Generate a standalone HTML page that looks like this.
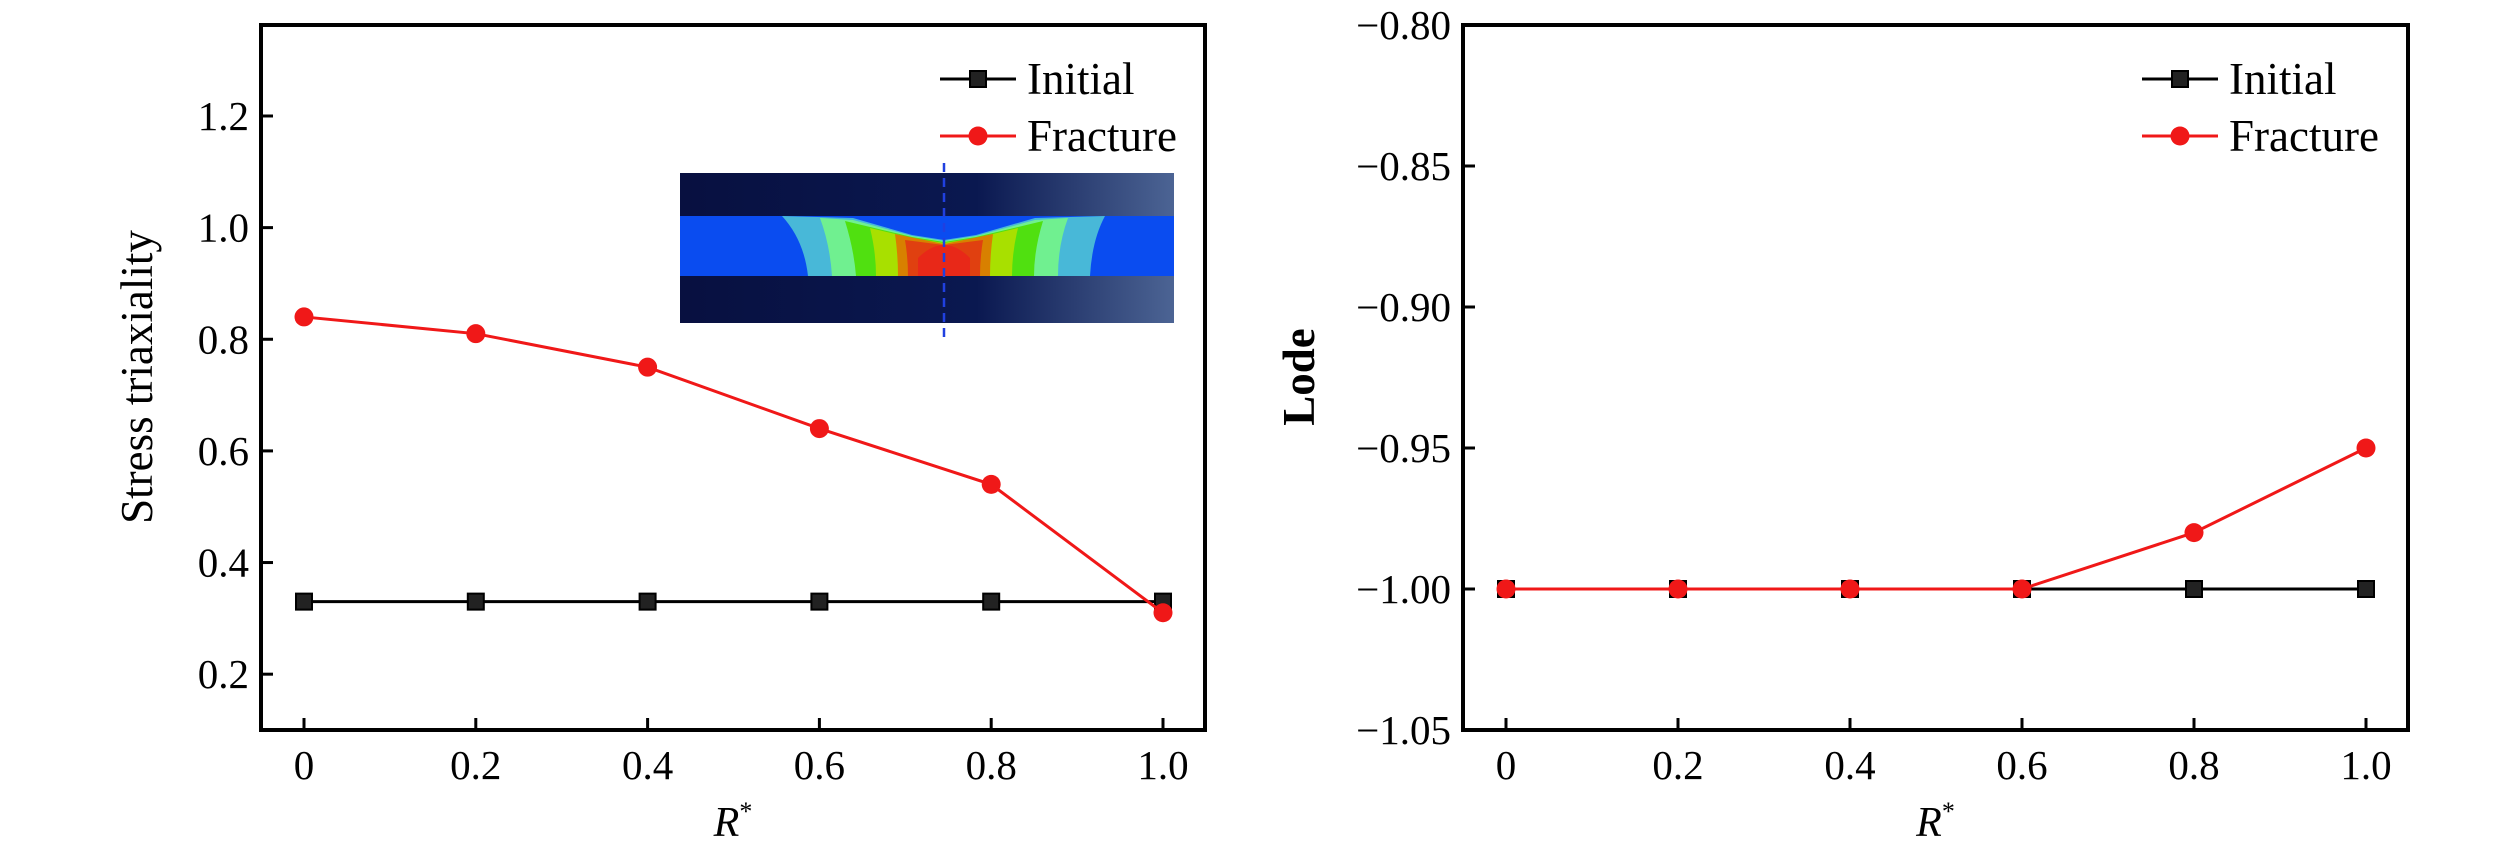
<!DOCTYPE html>
<html><head><meta charset="utf-8"><style>
body{margin:0;background:#fff}
svg{display:block;font-family:"Liberation Serif",serif}
</style></head><body>
<svg id="chart" width="2520" height="855" viewBox="0 0 2520 855">
<defs>
<linearGradient id="bg" x1="0" x2="1" y1="0" y2="0">
<stop offset="0" stop-color="#081040"/><stop offset="0.6" stop-color="#0a1850"/><stop offset="1" stop-color="#4c6494"/>
</linearGradient>
</defs>
<g id="inset">
<rect x="680" y="173" width="494" height="150" fill="url(#bg)"/>
<rect x="680" y="216" width="494" height="60" fill="#0a4cf0"/>
<g>
<path d="M782,216 L853,218 L912,235 L944,240 L976,235 L1035,218 L1105,216 Q1092,240 1090,276 L808,276 Q804,240 782,216 Z" fill="#48b8d8"/>
<path d="M820,218 L853,220 L912,236 L944,241 L976,236 L1035,220 L1068,218 Q1058,245 1058,276 L832,276 Q830,245 820,218 Z" fill="#70f090"/>
<path d="M845,221 L912,237 L944,242 L976,237 L1043,221 Q1034,250 1034,276 L856,276 Q854,250 845,221 Z" fill="#50e010"/>
<path d="M870,228 L912,238 L944,243 L976,238 L1018,228 Q1012,252 1012,276 L876,276 Q876,252 870,228 Z" fill="#a8e000"/>
<path d="M895,234 L944,244 L993,234 Q990,255 990,276 L898,276 Q898,255 895,234 Z" fill="#d88000"/>
<path d="M905,240 L944,245 L983,240 Q980,258 980,276 L908,276 Q908,258 905,240 Z" fill="#e04010"/>
<path d="M918,276 L918,258 Q944,232 970,258 L970,276 Z" fill="#e82818"/>
</g>
<line x1="944" y1="163" x2="944" y2="343" stroke="#2040e0" stroke-width="2.5" stroke-dasharray="9,6"/>
</g>
</svg>
<script>
const xCats=[0,0.2,0.4,0.6,0.8,1.0];
const xLabels=["0","0.2","0.4","0.6","0.8","1.0"];
const leftInitial=[0.33,0.33,0.33,0.33,0.33,0.33];
const leftFracture=[0.84,0.81,0.75,0.64,0.54,0.31];
const leftTicks=[0.2,0.4,0.6,0.8,1.0,1.2];
const leftTickLabels=["0.2","0.4","0.6","0.8","1.0","1.2"];
const rightInitial=[-1,-1,-1,-1,-1,-1];
const rightFracture=[-1,-1,-1,-1,-0.98,-0.95];
const rightTicks=[-1.05,-1.0,-0.95,-0.9,-0.85,-0.8];
const rightTickLabels=["\u22121.05","\u22121.00","\u22120.95","\u22120.90","\u22120.85","\u22120.80"];
const NS="http://www.w3.org/2000/svg";
const svg=document.getElementById('chart');
function el(tag,attrs,parent){const e=document.createElementNS(NS,tag);for(const k in attrs)e.setAttribute(k,attrs[k]);(parent||svg).appendChild(e);return e;}
function panel(cfg){
  const g=el('g',{});
  
  
  const L=cfg.left,R=cfg.right,T=25,B=730;
  const xs=v=>cfg.x0+(v-0)*(cfg.x1-cfg.x0);
  const ys=v=>B-(v-cfg.ymin)/(cfg.ymax-cfg.ymin)*(B-T);
  const box=el('rect',{x:L,y:T,width:R-L,height:B-T,fill:'none',stroke:'#000','stroke-width':4},g);
  
  
  xCats.forEach((v,i)=>{
    const t=el('line',{x1:xs(v),x2:xs(v),y1:B,y2:B-12,stroke:'#000','stroke-width':3},g);
    
    
    const tx=el('text',{x:xs(v),y:779,'font-size':41,'text-anchor':'middle'},g);
    tx.textContent=xLabels[i];
    
    
  });
  cfg.ticks.forEach((v,i)=>{
    const t=el('line',{x1:L,x2:L+12,y1:ys(v),y2:ys(v),stroke:'#000','stroke-width':3},g);
    
    
    const tx=el('text',{x:L-12,y:ys(v)+14,'font-size':41,'text-anchor':'end'},g);
    tx.textContent=cfg.labels[i];
    
    
  });
  const xt=el('text',{x:(L+R)/2,y:836,'font-size':42,'font-style':'italic','text-anchor':'middle'},g);
  xt.innerHTML='R<tspan dy="-16" font-size="26" font-style="normal">*</tspan>';
  
  
  const yt=el('text',{x:cfg.ytx,y:377,'font-size':45,'text-anchor':'middle','font-weight':cfg.ybold?'bold':'normal',transform:`rotate(-90 ${cfg.ytx} 377)`},g);
  yt.textContent=cfg.ytitle;
  
  
  function series(vals,color,shape,name){
    const pts=vals.map((v,i)=>xs(xCats[i])+','+ys(v)).join(' ');
    const pl=el('polyline',{points:pts,fill:'none',stroke:color,'stroke-width':3},g);
    
    
    vals.forEach((v,i)=>{
      let m;
      if(shape==='sq') m=el('rect',{x:xs(xCats[i])-8,y:ys(v)-8,width:16,height:16,fill:'#222',stroke:'#000','stroke-width':2},g);
      else m=el('circle',{cx:xs(xCats[i]),cy:ys(v),r:9.5,fill:color},g);
      
      
    });
  }
  series(cfg.init,'#000','sq','initial');
  series(cfg.frac,'#f01818','ci','fracture');
  const lx=cfg.legx;
  const lg=el('g',{},g);
  
  
  el('line',{x1:lx,x2:lx+76,y1:79,y2:79,stroke:'#000','stroke-width':3},lg);
  el('rect',{x:lx+30,y:71,width:16,height:16,fill:'#222',stroke:'#000','stroke-width':2},lg);
  const t1=el('text',{x:lx+87,y:94,'font-size':45},lg);
  t1.textContent='Initial';
  
  
  el('line',{x1:lx,x2:lx+76,y1:136,y2:136,stroke:'#f01818','stroke-width':3},lg);
  el('circle',{cx:lx+38,cy:136,r:9.5,fill:'#f01818'},lg);
  const t2=el('text',{x:lx+87,y:151,'font-size':45},lg);
  t2.textContent='Fracture';
  
  
}
panel({name:'stress-triaxiality-chart',left:261,right:1205,x0:304,x1:1163,ymin:0.1,ymax:1.363,ticks:leftTicks,labels:leftTickLabels,init:leftInitial,frac:leftFracture,ytitle:'Stress triaxiality',ytx:152,ybold:false,legx:940});
panel({name:'lode-chart',left:1463,right:2408,x0:1506,x1:2366,ymin:-1.05,ymax:-0.8,ticks:rightTicks,labels:rightTickLabels,init:rightInitial,frac:rightFracture,ytitle:'Lode',ytx:1314,ybold:true,legx:2142});
</script>
</body></html>
